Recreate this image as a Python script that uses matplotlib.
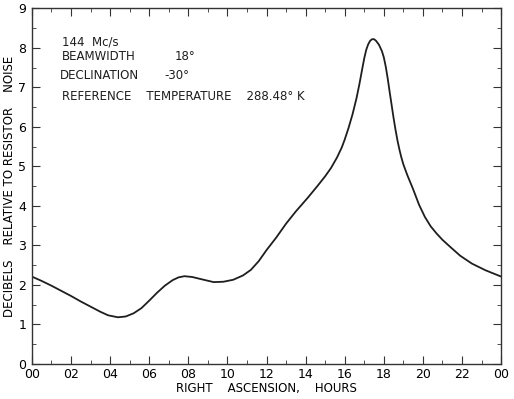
import numpy as np
import matplotlib.pyplot as plt
from matplotlib.ticker import MultipleLocator

plt.rcParams['font.family'] = ['DejaVu Sans']

# curve (hour, decibels)
hours = [0, 0.5, 1, 1.5, 2, 2.5, 3, 3.5, 3.9, 4.4, 4.8, 5.2, 5.6, 6.0, 6.4,
         6.8, 7.2, 7.5, 7.8, 8.2, 8.7, 9.3, 9.8, 10.3, 10.8, 11.2, 11.6, 12.0,
         12.5, 13.0, 13.5, 14.1, 14.6, 15.0, 15.3, 15.6, 15.85, 16.0, 16.2,
         16.4, 16.6, 16.75, 16.9, 17.0, 17.1, 17.2, 17.3, 17.4, 17.5, 17.6,
         17.75, 17.9, 18.0, 18.1, 18.2, 18.3, 18.4, 18.5, 18.6, 18.7, 18.8,
         18.9, 19.0, 19.2, 19.5, 19.8, 20.1, 20.4, 20.7, 21.0, 21.4, 21.9,
         22.5, 23.2, 24]
db = [2.21, 2.10, 1.98, 1.85, 1.72, 1.58, 1.45, 1.32, 1.23, 1.18, 1.20, 1.28,
      1.41, 1.60, 1.80, 1.98, 2.12, 2.19, 2.22, 2.20, 2.14, 2.07, 2.08, 2.13,
      2.24, 2.38, 2.60, 2.88, 3.20, 3.55, 3.86, 4.20, 4.50, 4.75, 4.96, 5.22,
      5.48, 5.68, 5.98, 6.32, 6.72, 7.08, 7.48, 7.74, 7.95, 8.09, 8.18, 8.22,
      8.22, 8.18, 8.08, 7.92, 7.76, 7.52, 7.22, 6.88, 6.55, 6.22, 5.92, 5.65,
      5.42, 5.22, 5.05, 4.78, 4.42, 4.03, 3.72, 3.48, 3.30, 3.14, 2.96, 2.74,
      2.54, 2.37, 2.21]

xtick_pos = list(range(0, 25, 2))
xtick_lab = ['00', '02', '04', '06', '08', '10', '12', '14', '16', '18', '20', '22', '00']

fig = plt.figure(figsize=(5.14, 3.99), dpi=100)
ax = fig.add_axes([0.062, 0.088, 0.913, 0.891])
ax.plot(hours, db, color='#1e1e1e', lw=1.3, solid_joinstyle='round')

ax.set_xlim(0, 24)
ax.set_ylim(0, 9)
ax.set_xticks(xtick_pos)
ax.set_xticklabels(xtick_lab)
ax.xaxis.set_minor_locator(MultipleLocator(1))
ax.set_yticks(range(10))
ax.yaxis.set_minor_locator(MultipleLocator(0.5))
ax.tick_params(which='both', direction='in', top=True, right=True,
               labelsize=9, color='#333')
ax.tick_params(axis='x', pad=3)
ax.tick_params(axis='y', pad=4)
ax.tick_params(which='major', length=6)
ax.tick_params(which='minor', length=3)
for s in ax.spines.values():
    s.set_linewidth(1.0)
    s.set_color('#333')

ax.set_xlabel('RIGHT    ASCENSION,    HOURS', fontsize=8.5, labelpad=1)
ax.set_ylabel('DECIBELS    RELATIVE TO RESISTOR    NOISE', fontsize=8.5, labelpad=2)

kw = dict(fontsize=8.5, va='center', ha='left', color='#1e1e1e')
ax.text(1.55, 8.15, '144  Mc/s', **kw)
ax.text(1.55, 7.77, 'BEAMWIDTH', **kw)
ax.text(7.3, 7.77, '18°', **kw)
ax.text(1.45, 7.29, 'DECLINATION', **kw)
ax.text(6.8, 7.29, '-30°', **kw)
ax.text(1.55, 6.78, 'REFERENCE    TEMPERATURE    288.48° K', **kw)

fig.savefig('out.png', dpi=100)
